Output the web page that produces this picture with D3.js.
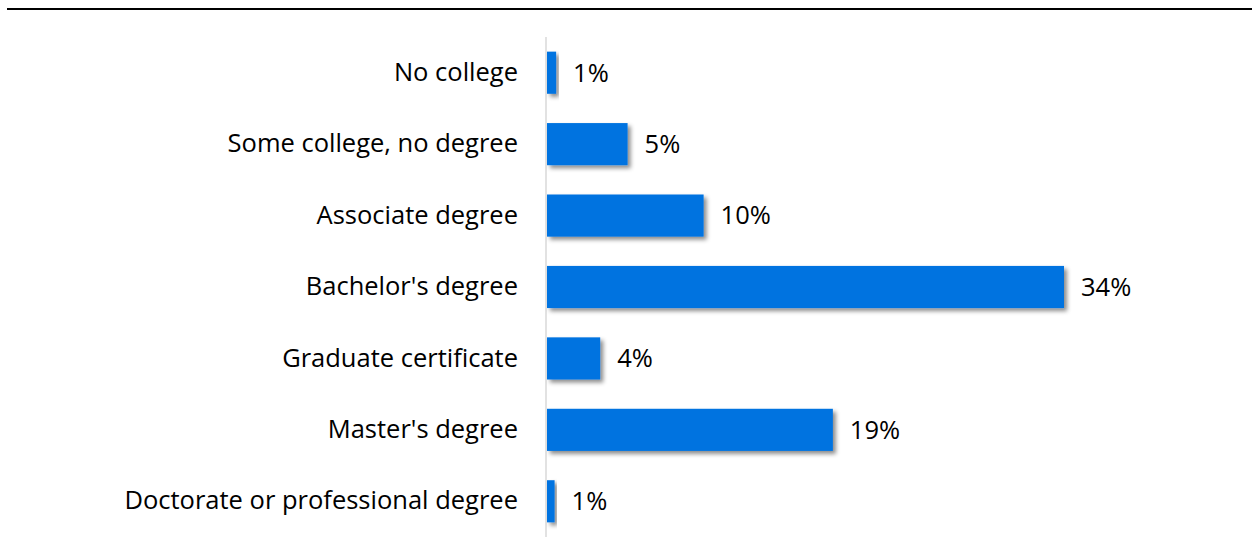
<!DOCTYPE html>
<html>
<head>
<meta charset="utf-8">
<script src="https://cdn.jsdelivr.net/npm/d3@7"></script>
<style>
  html, body { margin: 0; padding: 0; background: #fff; }
  svg { display: block; }
  text { font-family: "Open Sans", sans-serif; fill: #000; }
</style>
</head>
<body>
<svg id="chart" width="1252" height="542"></svg>
<script>
const categories = [
  "No college",
  "Some college, no degree",
  "Associate degree",
  "Bachelor's degree",
  "Graduate certificate",
  "Master's degree",
  "Doctorate or professional degree"
];
const values = [0.6, 5.3, 10.3, 34, 3.5, 18.8, 0.5];
const valueLabels = ["1%", "5%", "10%", "34%", "4%", "19%", "1%"];

const W = 1252, H = 542;
const margin = { top: 37, left: 546, right: 188, bottom: 5 };
const svg = d3.select("#chart");
const FONT = 25.5;

const defs = svg.append("defs");
const f = defs.append("filter").attr("id", "shadow")
  .attr("x", "-20%").attr("y", "-30%").attr("width", "150%").attr("height", "170%");
f.append("feDropShadow").attr("dx", 3).attr("dy", 3).attr("stdDeviation", 2.2)
  .attr("flood-color", "#000").attr("flood-opacity", 0.45);

// top rule
svg.append("line").attr("x1", 7).attr("x2", W).attr("y1", 9).attr("y2", 9)
  .attr("stroke", "#000").attr("stroke-width", 2);

const x = d3.scaleLinear().domain([0, 34]).range([margin.left + 1, margin.left + 1 + 517]);
const y = d3.scaleBand().domain(categories).range([margin.top, 537]).paddingInner(0.41).paddingOuter(0.205);

// axis line
svg.append("line").attr("x1", margin.left).attr("x2", margin.left)
  .attr("y1", margin.top).attr("y2", 537)
  .attr("stroke", "#d9d9d9").attr("stroke-width", 1.5);

const data = categories.map((c, i) => ({ c, v: values[i], l: valueLabels[i] }));

svg.append("g").selectAll("rect").data(data).join("rect")
  .attr("x", x(0))
  .attr("y", d => y(d.c))
  .attr("width", d => x(d.v) - x(0))
  .attr("height", y.bandwidth())
  .attr("fill", "#0073e0")
  .attr("filter", "url(#shadow)");

svg.append("g").selectAll("text").data(data).join("text")
  .attr("x", d => x(d.v) + 17)
  .attr("y", d => y(d.c) + y.bandwidth() / 2)
  .attr("dy", "0.35em")
  .attr("font-size", FONT)
  .text(d => d.l);

const yAxis = d3.axisLeft(y).tickSize(0).tickPadding(28);
const ga = svg.append("g").attr("transform", `translate(${margin.left},0)`).call(yAxis);
ga.select(".domain").remove();
ga.selectAll("text").attr("font-size", FONT).attr("font-family", "'Open Sans', sans-serif").attr("fill", "#000");
</script>
</body>
</html>
